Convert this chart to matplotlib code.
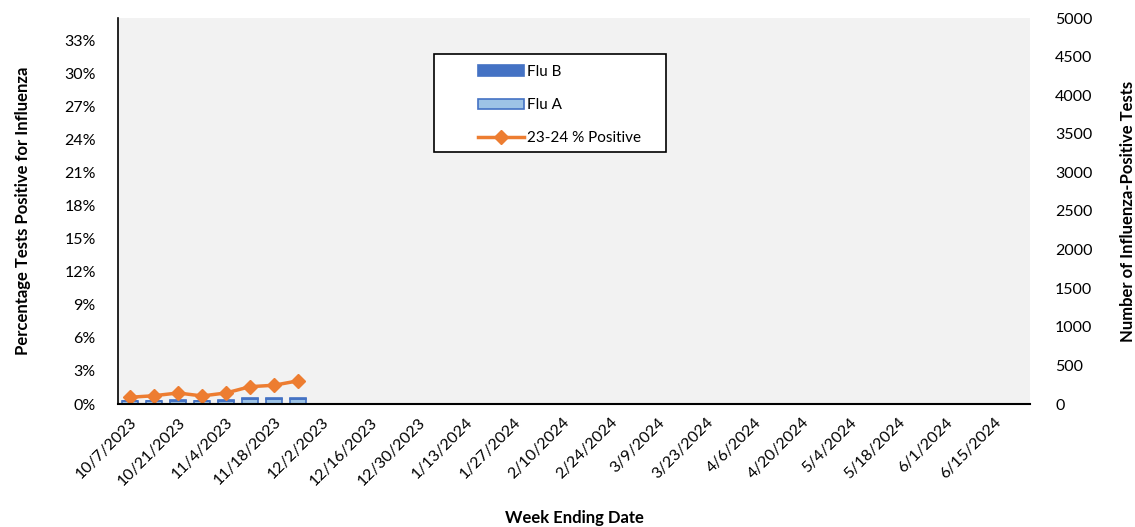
import matplotlib
matplotlib.use("Agg")
import matplotlib.pyplot as plt
from matplotlib.patches import Rectangle
import numpy as np
import datetime as dt

# Data
start = dt.date(2023, 10, 7)
weeks = [start + dt.timedelta(weeks=i) for i in range(38)]
week_labels = [f"{d.month}/{d.day}/{d.year}" for d in weeks]
flu_a = [38, 36, 40, 37, 40, 65, 66, 70]
flu_b = [5, 5, 6, 5, 6, 8, 8, 10]
pct_positive = [0.61, 0.75, 1.0, 0.73, 1.0, 1.57, 1.7, 2.1]

plt.rcParams['font.family'] = ['Lato', 'DejaVu Sans']

W, H = 1135, 527
fig = plt.figure(figsize=(W/100, H/100), dpi=100)
ax = fig.add_axes([118/W, 1 - 404/H, (1030-118)/W, (404-18)/H])
ax2 = ax.twinx()

x = np.arange(len(weeks))
n = len(flu_a)
ax2.bar(x[:n], flu_a, width=0.7, color='#9DC3E6', edgecolor='#4472C4', linewidth=1.2, label='Flu A', zorder=2)
ax2.bar(x[:n], flu_b, width=0.7, bottom=flu_a, color='#4472C4', edgecolor='#4472C4', linewidth=1.2, label='Flu B', zorder=2)

ax.set_zorder(ax2.get_zorder() + 1)
ax.patch.set_visible(False)
ax2.patch.set_visible(True)
ax2.patch.set_facecolor('#F2F2F2')

ax.plot(x[:n], pct_positive, color='#ED7D31', linewidth=2.5, marker='D', markersize=7.5, label='23-24 % Positive')

ax.set_xlim(-0.5, len(weeks) - 0.5)
ax.set_ylim(0, 35)
ax.set_yticks(np.arange(0, 34, 3))
ax.set_yticklabels([f"{v}%" for v in range(0, 34, 3)])
ax2.set_ylim(0, 5000)
ax2.set_yticks(np.arange(0, 5001, 500))

ax.set_xticks(x[::2])
ax.set_xticklabels(week_labels[::2], rotation=45, ha='right', rotation_mode='anchor')

for a in (ax, ax2):
    a.tick_params(axis='both', length=0, labelsize=11.5, colors='#000000')
    for s in a.spines.values():
        s.set_visible(False)
ax.tick_params(axis='x', pad=8)
ax.tick_params(axis='y', pad=16)
ax2.tick_params(axis='y', pad=18)
ax.spines['left'].set_visible(True)
ax.spines['bottom'].set_visible(True)
ax.spines['left'].set_linewidth(1.2)
ax.spines['bottom'].set_linewidth(1.5)

ax.set_ylabel('Percentage Tests Positive for Influenza', fontsize=12, fontweight='bold', labelpad=24)
ax2.set_ylabel('Number of Influenza-Positive Tests', fontsize=12, fontweight='bold', labelpad=20)
fig.text((118+1030)/2/W, 1 - 518/H, 'Week Ending Date', ha='center', va='center', fontsize=12, fontweight='bold')

# Legend frame
frame = Rectangle((434/W, 1 - 152/H), (666-434)/W, (152-54)/H, transform=fig.transFigure,
                  facecolor='white', edgecolor='black', linewidth=1.2, zorder=9)
fig.add_artist(frame)

h2, l2 = ax2.get_legend_handles_labels()
h1, l1 = ax.get_legend_handles_labels()
handles = [h2[1], h2[0], h1[0]]
labels = [l2[1], l2[0], l1[0]]
leg = fig.legend(handles, labels, loc='upper left', bbox_to_anchor=(472/W, 1 - 59/H),
                 frameon=False, fontsize=11,
                 borderpad=0.4, labelspacing=1.25, handlelength=3.0, handletextpad=0.2,
                 borderaxespad=0)
leg.set_zorder(10)

fig.savefig('out.png', dpi=100)
